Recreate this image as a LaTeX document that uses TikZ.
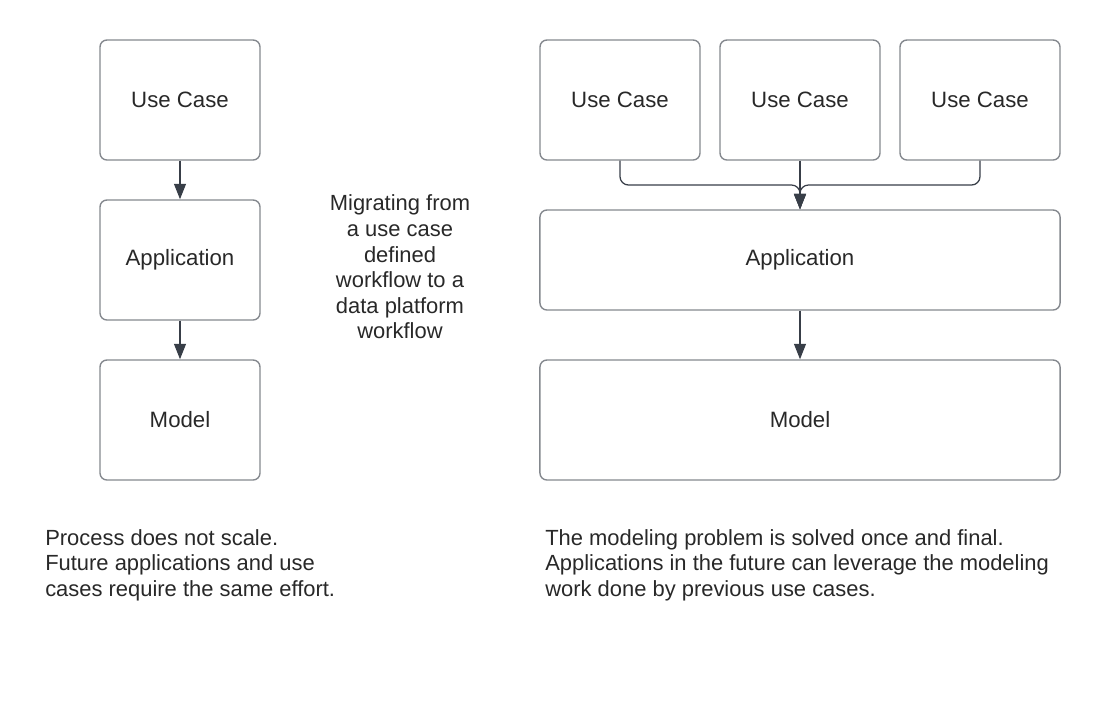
\documentclass[tikz,border=0pt]{standalone}
\usepackage{fontspec}
\setmainfont{Liberation Sans}
\usetikzlibrary{
    positioning,
    arrows.meta
    }

\definecolor{boxline}{RGB}{132,136,142}
\definecolor{linkline}{RGB}{56,62,72}
\definecolor{textgray}{RGB}{40,40,40}

\begin{document}
\begin{tikzpicture}[x=0.025cm, y=-0.025cm]
\tikzset{block/.style =
        {
            draw=boxline,
            line width=1pt,
            rounded corners=5pt,
            inner sep=0pt,
            text=textgray,
            font=\fontsize{15.8}{18}\selectfont
        }
}

\tikzset{small block/.style =
        {
            block,
            minimum width=4cm,
            minimum height=3cm
        }
}

\tikzset{wide block/.style =
        {
            block,
            minimum width=13cm
        }
}

\tikzset{link/.style =
        {
            draw=linkline,
            line width=0.9pt,
            rounded corners=6pt,
            -{Triangle[width=8.5pt,length=11pt]}
        }
}

\tikzset{note/.style =
        {
            text=textgray,
            inner sep=0pt,
            font=\fontsize{15.6}{18.2}\selectfont
        }
}

		\useasboundingbox (0,0) rectangle (1100,700);

		% use case defined workflow
		\foreach \name / \y / \txt in
			{usecase/100/Use Case,
				app/260/Application,
				model/420/Model}
		\node[small block] at (180,\y) (\name) {\txt};

		\draw [link] (usecase) -- (app);
		\draw [link] (app) -- (model);

		% data platform workflow
		\foreach \i / \x in
			{1/620,
				2/800,
				3/980}
		\node[small block] at (\x,100) (uc\i) {Use Case};

		\node[wide block, minimum height=2.5cm] at (800,260) (platform) {Application};
		\node[wide block, minimum height=3cm] at (800,420) (base) {Model};

		\coordinate (merge) at (800,185);
		\foreach \i in {1,2,3}
			\draw [link] (uc\i.south) |- (merge) -- (platform.north);
		\draw [link] (platform) -- (base);

		% texts
		\node[note, align=center] at (400,267) (migrate)
			{Migrating from\\a use case\\defined\\workflow to a\\data platform\\workflow};

		\node[note, align=left, anchor=north west] at (45,529) (left note)
			{Process does not scale.\\Future applications and use\\cases require the same effort.};

		\node[note, align=left, anchor=north west] at (545,529) (right note)
			{The modeling problem is solved once and final.\\Applications in the future can leverage the modeling\\work done by previous use cases.};

	\end{tikzpicture}
\end{document}
